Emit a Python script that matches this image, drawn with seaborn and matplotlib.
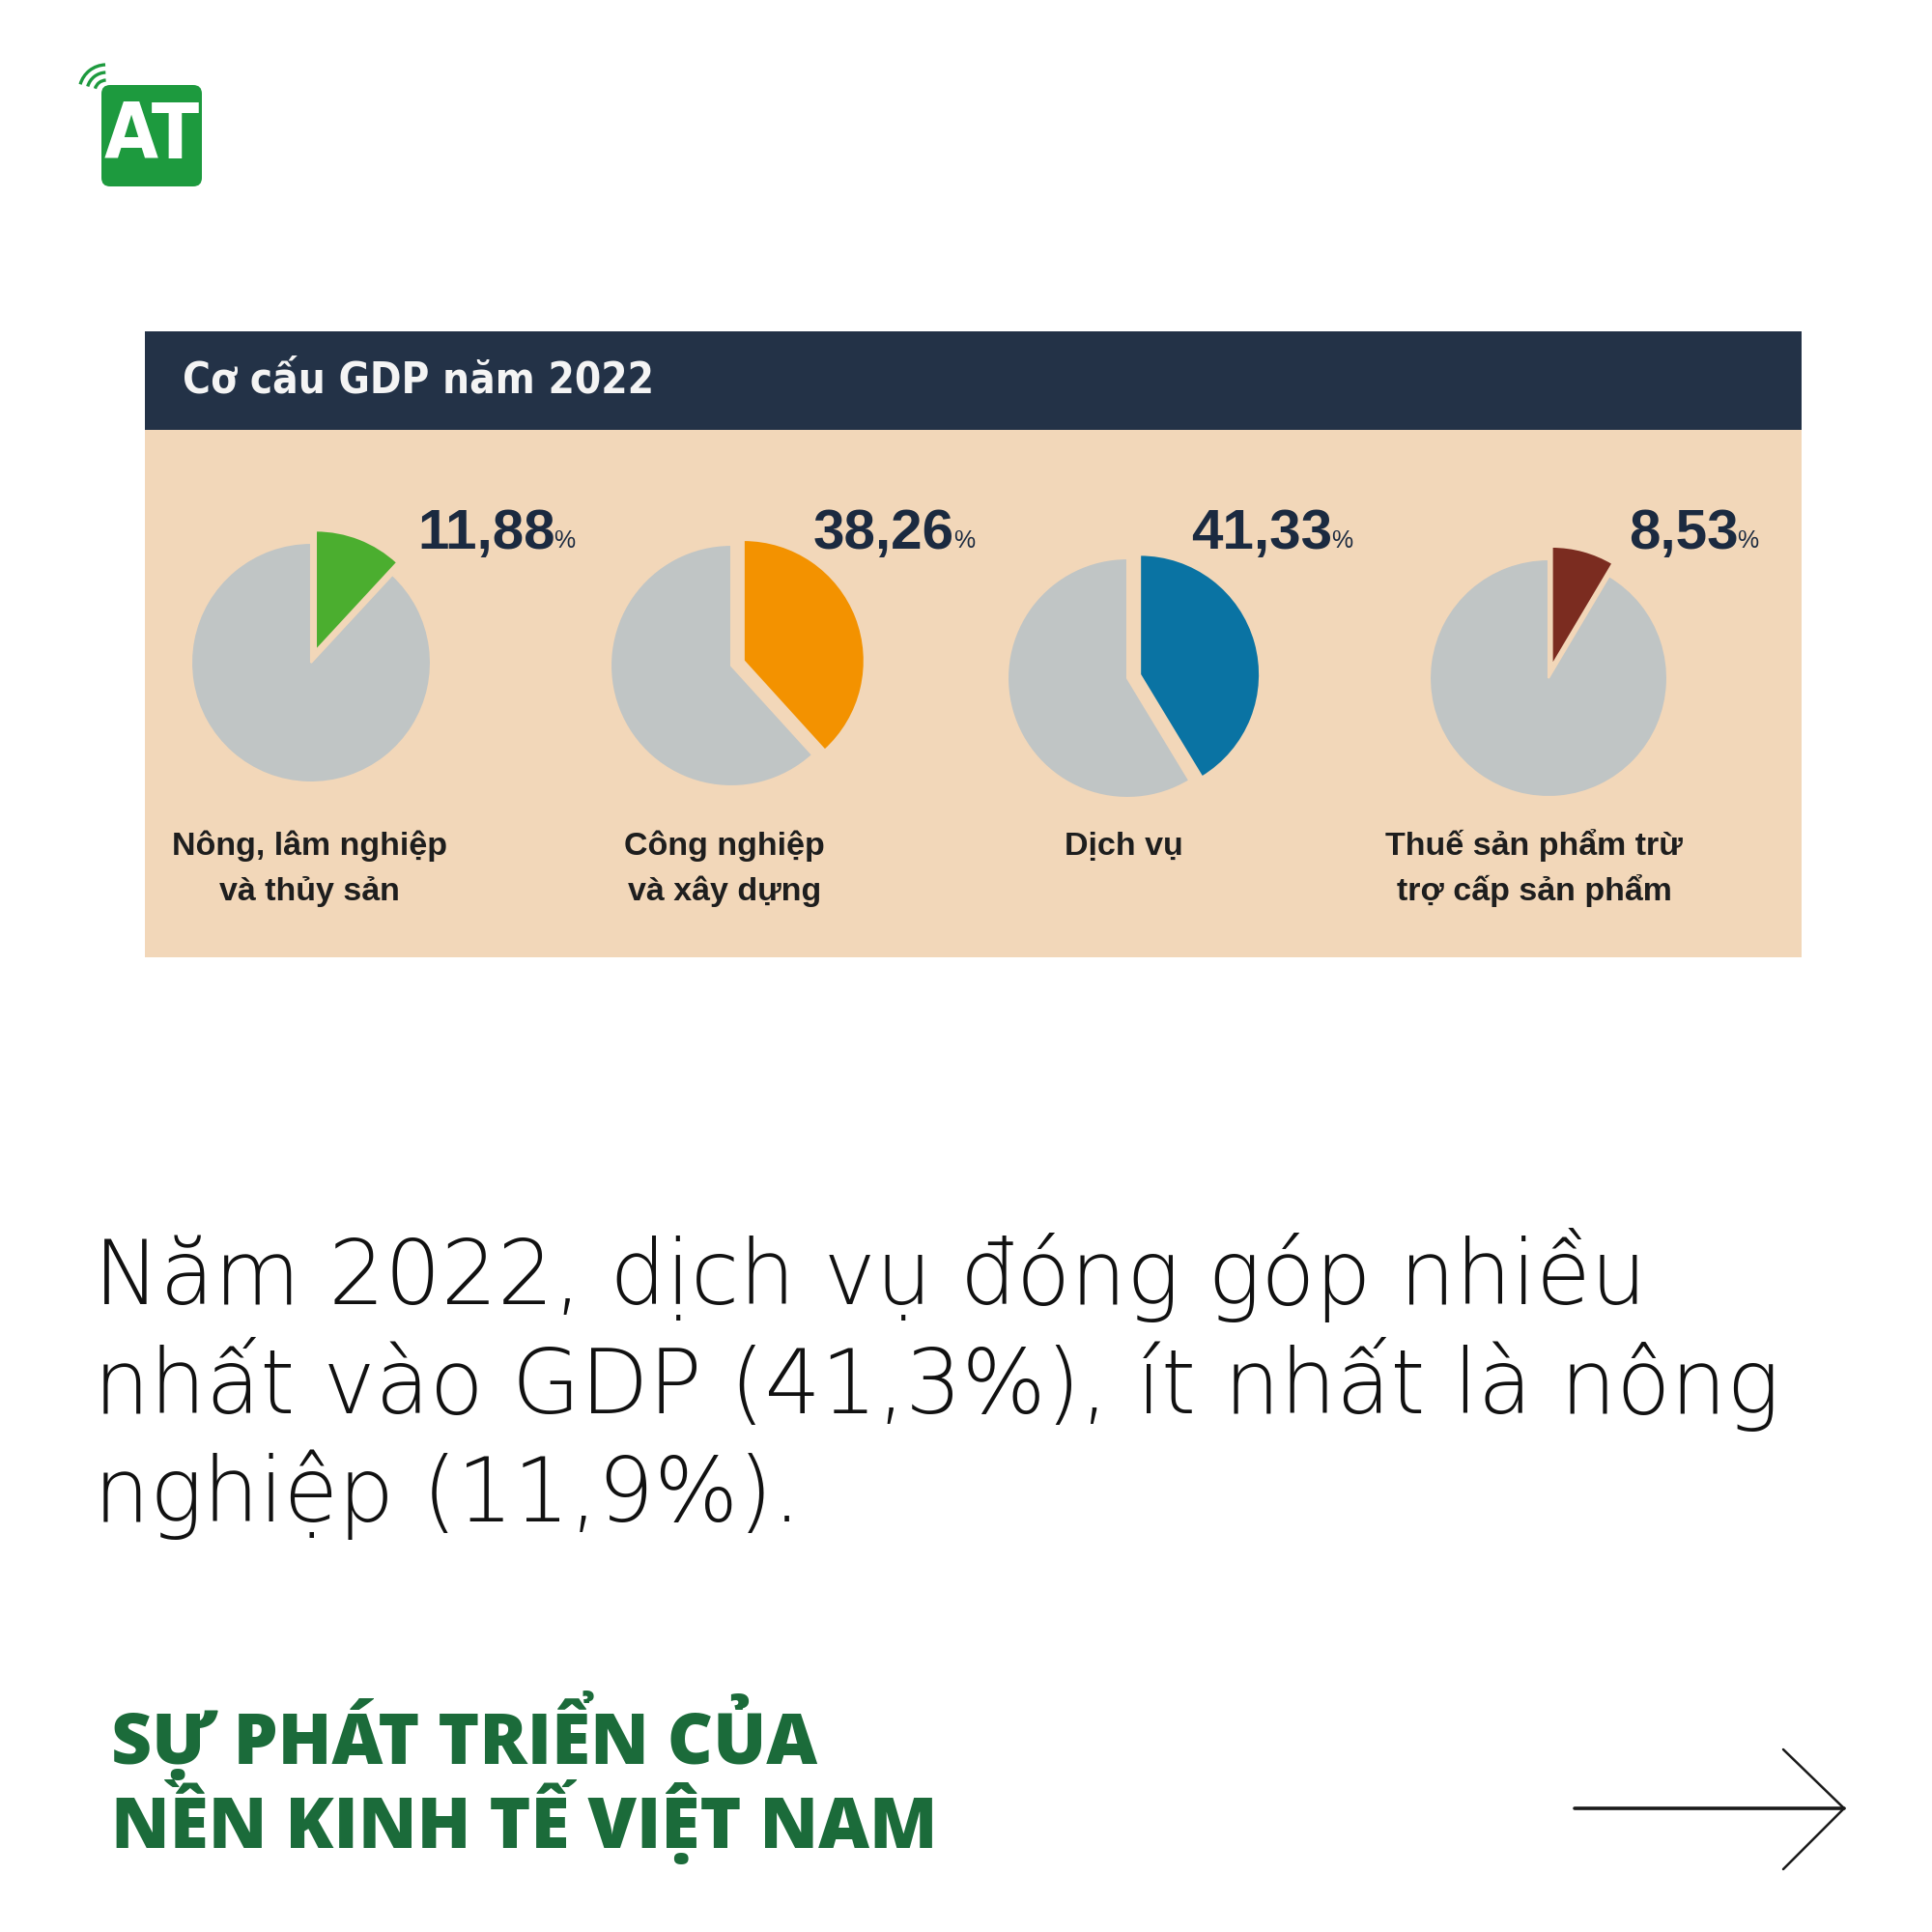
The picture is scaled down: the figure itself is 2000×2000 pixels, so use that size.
import matplotlib
matplotlib.use("Agg")
import matplotlib.pyplot as plt
import seaborn as sns
from matplotlib.patches import Rectangle, FancyBboxPatch, Arc
from matplotlib.lines import Line2D
from matplotlib import font_manager

# ---------------- data ----------------
title = "Cơ cấu GDP năm 2022"
categories = ["Nông, lâm nghiệp\nvà thủy sản",
              "Công nghiệp\nvà xây dựng",
              "Dịch vụ",
              "Thuế sản phẩm trừ\ntrợ cấp sản phẩm"]
shares = [11.88, 38.26, 41.33, 8.53]
share_labels = ["11,88", "38,26", "41,33", "8,53"]
slice_colors = ["#4BAE2F", "#F39200", "#0A73A3", "#7B2C20"]
body_lines = ["Năm 2022, dịch vụ đóng góp nhiều",
              "nhất vào GDP (41,3%), ít nhất là nông",
              "nghiệp (11,9%)."]
footer_lines = ["SỰ PHÁT TRIỂN CỦA", "NỀN KINH TẾ VIỆT NAM"]

# ---------------- style ----------------
sns.set_theme(style="white")
plt.rcParams['font.family'] = ['Liberation Sans', 'DejaVu Sans']
FONTS = font_manager.fontManager.ttflist


def has(name, weight=None, stretch=None):
    for f in FONTS:
        if f.name != name:
            continue
        if weight is not None and f.weight != weight:
            continue
        if stretch is not None and f.stretch != stretch:
            continue
        return True
    return False


cond_ok = has('DejaVu Sans', stretch='condensed') and has('DejaVu Sans', weight=700, stretch='condensed')
if cond_ok:
    cond_font = dict(family=['DejaVu Sans'], fontstretch='condensed', fontweight='bold')
    title_size, logo_size = 31.5, 58
else:
    cond_font = dict(family=['Liberation Sans', 'DejaVu Sans'], fontweight='bold')
    title_size, logo_size = 31, 54

if has('DejaVu Sans', weight=200):
    body_font = dict(family=['DejaVu Sans'], fontweight=200)
    body_size = 66
else:
    body_font = dict(family=['Open Sans', 'DejaVu Sans'], fontweight='light')
    body_size = 71

BG = "#F2D7B9"
HEAD = "#233247"
GRAY = "#C0C5C5"
NUM = "#1B2A40"
GREEN_DARK = "#1B6B3A"

W = 2000
fig = plt.figure(figsize=(20, 20), dpi=100)
fig.patch.set_facecolor("white")
ax = fig.add_axes([0, 0, 1, 1])
ax.set_xlim(0, W)
ax.set_ylim(W, 0)
ax.axis("off")

# panel
ax.add_patch(Rectangle((150, 343), 1715, 648, fc=BG, ec="none"))
ax.add_patch(Rectangle((150, 343), 1715, 102, fc=HEAD, ec="none"))
ax.text(189, 394, title, color="#F4F4F4", fontsize=title_size,
        va="center", ha="left", **cond_font)

# pies
centers = [(322, 686), (757, 689), (1167, 702), (1603, 702)]
radii = [124, 125, 124, 123]
label_x = [320, 750, 1163, 1588]
num_x = [432, 842, 1233, 1686]
for i, v in enumerate(shares):
    cx, cy = centers[i]
    r = radii[i]
    R = 1.4 * r
    pax = fig.add_axes([(cx - R) / W, 1 - (cy + R) / W, 2 * R / W, 2 * R / W])
    pax.pie([v, 100 - v], colors=[slice_colors[i], GRAY], startangle=90,
            counterclock=False, explode=[0.11, 0],
            wedgeprops=dict(linewidth=1.5, edgecolor=BG))
    pax.set_xlim(-1.4, 1.4)
    pax.set_ylim(-1.4, 1.4)
    pax.axis("off")

    t = ax.text(num_x[i], 568, share_labels[i], color=NUM, fontsize=42,
                fontweight="bold", va="baseline", ha="left")
    ax.annotate("%", xy=(1, 0), xycoords=t, xytext=(-1, 6),
                textcoords="offset points", color=NUM, fontsize=18,
                va="bottom", ha="left")

    for j, line in enumerate(categories[i].split("\n")):
        ax.text(label_x[i], 885 + 47 * j, line, color="#1E1E1E", fontsize=24.5,
                fontweight="bold", va="baseline", ha="center")

# body text
for j, line in enumerate(body_lines):
    ax.text(97, 1350 + 112.5 * j, line, color="#111111", fontsize=body_size,
            va="baseline", ha="left", **body_font)

# footer
for j, line in enumerate(footer_lines):
    ax.text(115, 1826 + 87 * j, line, color=GREEN_DARK, fontsize=52.5,
            family=["Open Sans", "DejaVu Sans"], fontweight="heavy",
            va="baseline", ha="left")

# arrow
ax.add_line(Line2D([1630, 1909], [1872, 1872], color="#1a1a1a", lw=2.6))
ax.add_line(Line2D([1846, 1909, 1846], [1811, 1872, 1935], color="#1a1a1a",
                   lw=1.8, solid_joinstyle="miter"))

# logo
LOGO = "#1D9A3E"
ax.add_patch(FancyBboxPatch((105, 88), 104, 105,
                            boxstyle="round,pad=0,rounding_size=9",
                            fc=LOGO, ec="none"))
ax.text(157, 142, "AT", color="white", fontsize=logo_size,
        va="center", ha="center", **cond_font)
for rr in (12, 20, 28):
    ax.add_patch(Arc((110, 95), 2 * rr, 2 * rr, theta1=196, theta2=268,
                     color=LOGO, lw=2.4))

fig.savefig("out.png", dpi=100, facecolor="white")
